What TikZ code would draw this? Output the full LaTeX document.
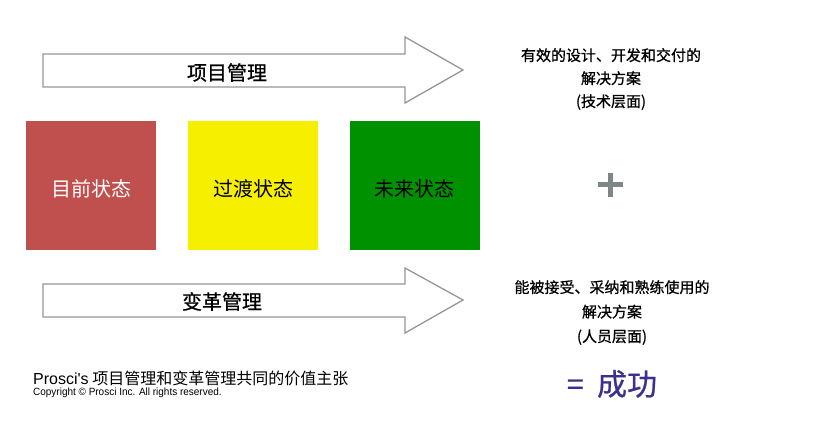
\documentclass[tikz,border=0pt]{standalone}
\usepackage{fontspec}
\setmainfont{Noto Sans CJK SC}
\newfontfamily\midfont[FakeBold=0.8]{Noto Sans CJK SC}
\newfontfamily\latfont{Liberation Sans}
\newfontfamily\narrowfont[FakeStretch=0.95]{Liberation Sans}
\definecolor{nowred}{RGB}{192,80,77}
\definecolor{midyellow}{RGB}{246,239,0}
\definecolor{futgreen}{RGB}{0,145,0}
\definecolor{arrgray}{RGB}{150,150,150}
\definecolor{plusgray}{RGB}{127,134,134}
\definecolor{winpurple}{RGB}{59,48,140}
\newcommand{\fs}[1]{\fontsize{#1}{#1}\selectfont}
\tikzset{
  bigarrow/.style={draw=arrgray, line width=1.3pt, fill=white},
  statebox/.style={minimum width=130pt, minimum height=129pt, inner sep=0pt},
  statetext/.style={font=\fs{20}},
  outcome/.style={align=center, font=\fs{15}\midfont}
}
\begin{document}
\begin{tikzpicture}[x=1pt,y=-1pt]
  \useasboundingbox (0,0) rectangle (816,422);
  % Draw arrows
  \draw[bigarrow] (43,54) -- (405,54) -- (405,37) -- (463,70) -- (405,103) -- (405,87) -- (43,87) -- cycle;
  \draw[bigarrow] (43,284) -- (405,284) -- (405,268) -- (463,300) -- (405,333) -- (405,317) -- (43,317) -- cycle;
  \node (pm) at (227,72.5) [font=\fs{20}\midfont] {项目管理};
  \node (cm) at (222,301.5) [font=\fs{20}\midfont] {变革管理};

  % Define state boxes
  \node (now) at (91,185.5) [statebox, fill=nowred] {};
  \node (mid) at (253,185.5) [statebox, fill=midyellow] {};
  \node (fut) at (414.5,185.5) [statebox, fill=futgreen] {};
  \node (nowtxt) at ([yshift=-3pt]now.center) [statetext, text=white] {目前状态};
  \node (midtxt) at ([yshift=-3pt]mid.center) [statetext] {过渡状态};
  \node (futtxt) at ([yshift=-3pt]fut.center) [statetext] {未来状态};

  % Outcomes on the right
  \node (tech) at (611,79) [outcome] {有效的设计、开发和交付的\\[8pt]解决方案\\[8pt](技术层面)};
  \node (people) at (612,312.5) [outcome] {能被接受、采纳和熟练使用的\\[9.5pt]解决方案\\[9.5pt](人员层面)};
  \draw[plusgray, line width=5pt] (598,185) -- (623,185);
  \draw[plusgray, line width=5pt] (610.5,173) -- (610.5,197);
  \node (win) at (612,384) [text=winpurple, font=\fs{30}\midfont] {=\ \ 成功};

  % Footer
  \node (title) at (33,378) [anchor=west, inner sep=0pt, font=\fs{16}] {{\latfont Prosci's} 项目管理和变革管理共同的价值主张};
  \node (copy) at (33,393) [anchor=west, inner sep=0pt, font=\fs{10.5}\narrowfont] {Copyright \textcopyright{} Prosci Inc. All rights reserved.};
\end{tikzpicture}
\end{document}
